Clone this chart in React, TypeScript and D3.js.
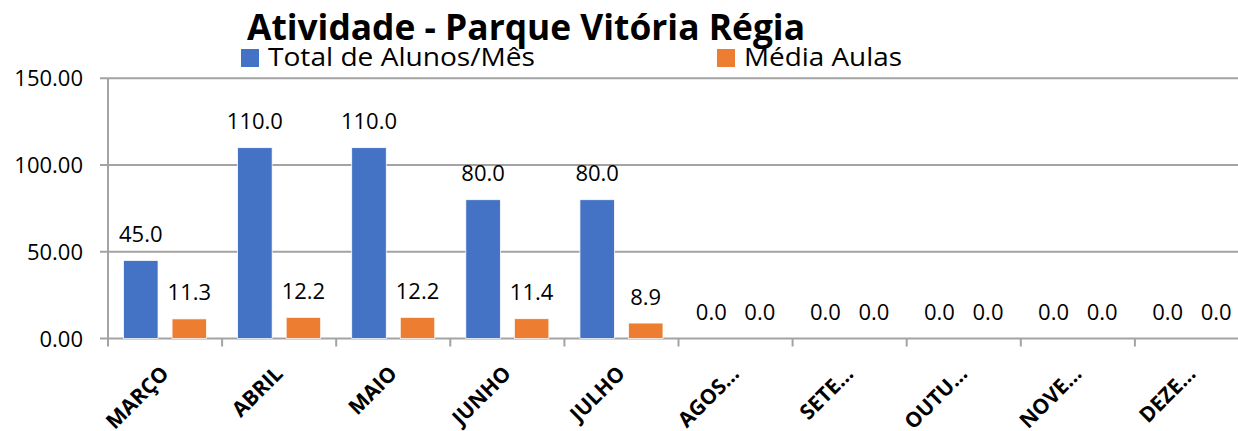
import React from 'react';
import * as d3 from 'd3';

const months = ['MARÇO', 'ABRIL', 'MAIO', 'JUNHO', 'JULHO', 'AGOS…', 'SETE…', 'OUTU…', 'NOVE…', 'DEZE…'];
const totalAlunos = [45, 110, 110, 80, 80, 0, 0, 0, 0, 0];
const mediaAulas = [11.3, 12.2, 12.2, 11.4, 8.9, 0, 0, 0, 0, 0];
const seriesNames = ['Total de Alunos/Mês', 'Média Aulas'];
const seriesColors = ['#4472C4', '#ED7D31'];
const yTicks = [0, 50, 100, 150];

const W = 1238;
const H = 431;
const FONT = '"Open Sans", "Noto Sans", sans-serif';
const GRID = '#a3a3a3';

const App: React.FC = () => {
  const x0 = d3.scaleBand<string>().domain(months).range([108, 1249]).paddingInner(0).paddingOuter(0);
  const x1 = d3
    .scaleBand<string>()
    .domain(seriesNames)
    .range([0, x0.bandwidth()])
    .paddingInner(0.289)
    .paddingOuter(0.32);
  const y = d3.scaleLinear().domain([0, 150]).range([338.5, 78.3]);

  const series = [totalAlunos, mediaAulas];

  return (
    <svg
      width={W}
      height={H}
      style={{ position: 'absolute', left: 0, top: 0, display: 'block', background: '#fff' }}
      fontFamily={FONT}
    >
      {/* title */}
      <text
        x={247}
        y={40}
        fontSize={35}
        fontWeight={700}
        fill="#000"
        textLength={558}
        lengthAdjust="spacingAndGlyphs"
      >
        Atividade - Parque Vitória Régia
      </text>

      {/* legend */}
      <rect x={241} y={49} width={18} height={18} fill={seriesColors[0]} />
      <text x={268} y={66} fontSize={25} fill="#000" textLength={267} lengthAdjust="spacingAndGlyphs">
        {seriesNames[0]}
      </text>
      <rect x={717} y={49} width={18} height={18} fill={seriesColors[1]} />
      <text x={744} y={66} fontSize={25} fill="#000" textLength={158} lengthAdjust="spacingAndGlyphs">
        {seriesNames[1]}
      </text>

      {/* gridlines + y ticks */}
      {yTicks.map((t) => (
        <g key={t}>
          <line x1={100} x2={1249} y1={y(t)} y2={y(t)} stroke={GRID} strokeWidth={2} />
          <text x={83} y={y(t) + 8} fontSize={22} textAnchor="end" fill="#000">
            {t.toFixed(2)}
          </text>
        </g>
      ))}

      {/* y axis */}
      <line x1={108} x2={108} y1={y(150)} y2={y(0)} stroke={GRID} strokeWidth={2} />

      {/* x ticks */}
      {months.map((m) => (
        <line
          key={m}
          x1={x0(m)!}
          x2={x0(m)!}
          y1={y(0)}
          y2={y(0) + 8}
          stroke={GRID}
          strokeWidth={2}
        />
      ))}

      {/* bars */}
      {months.map((m, i) => (
        <g key={m} transform={`translate(${x0(m)},0)`}>
          {series.map((vals, s) => {
            const bx = x1(seriesNames[s])!;
            const v = vals[i];
            return (
              <g key={s}>
                {v > 0 && (
                  <rect
                    x={bx}
                    y={y(v)}
                    width={x1.bandwidth()}
                    height={y(0) - y(v)}
                    fill={seriesColors[s]}
                    stroke="#ffffff"
                    strokeWidth={0.75}
                  />
                )}
                <text
                  x={bx + x1.bandwidth() / 2}
                  y={y(v) - 18.5}
                  fontSize={22}
                  textAnchor="middle"
                  fill="#000"
                >
                  {v.toFixed(1)}
                </text>
              </g>
            );
          })}
        </g>
      ))}

      {/* category labels */}
      {months.map((m) => {
        const cx = x0(m)! + x0.bandwidth() / 2 + 5;
        const cy = 375;
        return (
          <text
            key={m}
            transform={`translate(${cx},${cy}) rotate(-45)`}
            fontSize={21}
            fontWeight={700}
            textAnchor="end"
            fill="#000"
          >
            {m}
          </text>
        );
      })}
    </svg>
  );
};

export default App;
